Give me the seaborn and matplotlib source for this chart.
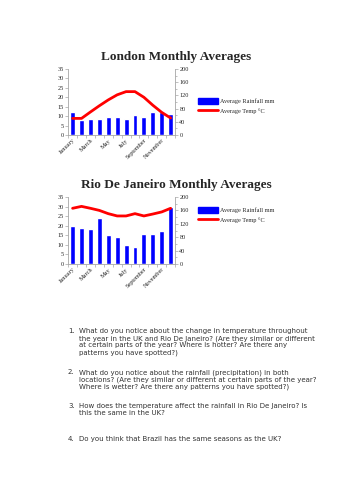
import numpy as np
import pandas as pd
import seaborn as sns
import matplotlib.pyplot as plt
from matplotlib.patches import Patch
from matplotlib.lines import Line2D
from matplotlib.ticker import MultipleLocator

sns.set_theme(style="white")

# dados
months = ["January", "February", "March", "April", "May", "June", "July",
          "August", "September", "October", "November", "December"]
london_rain = [70, 45, 50, 50, 55, 54, 49, 61, 55, 70, 70, 64]
london_temp = [8.8, 8.8, 12.2, 15.5, 18.6, 21.3, 23.0, 23.0, 20.0, 15.8, 12.0, 9.0]
rio_rain = [114, 106, 103, 137, 86, 80, 56, 51, 89, 89, 98, 170]
rio_temp = [29.1, 30.1, 29.1, 28.0, 26.3, 25.1, 25.1, 26.3, 25.1, 26.1, 27.2, 29.1]

questions = [
    ("1.", "What do you notice about the change in temperature throughout\n"
           "the year in the UK and Rio De Janeiro? (Are they similar or different\n"
           "at certain parts of the year? Where is hotter? Are there any\n"
           "patterns you have spotted?)"),
    ("2.", "What do you notice about the rainfall (precipitation) in both\n"
           "locations? (Are they similar or different at certain parts of the year?\n"
           "Where is wetter? Are there any patterns you have spotted?)"),
    ("3.", "How does the temperature affect the rainfall in Rio De Janeiro? Is\n"
           "this the same in the UK?"),
    ("4.", "Do you think that Brazil has the same seasons as the UK?"),
]
question_y = [328, 369, 403, 436]

serif = "Liberation Serif"
grey = "#a6a6a6"

fig = plt.figure(figsize=(3.53, 5.0), dpi=100)


def climate_chart(rect, title, rain, temp, title_y, legend_y):
    ax = fig.add_axes(rect)
    df = pd.DataFrame({"month": months, "rain": rain, "temp": temp})
    sns.barplot(data=df, x="month", y="rain", color="#0000ff", saturation=1,
                width=0.55, ax=ax)

    ax2 = ax.twinx()
    sns.pointplot(data=df, x="month", y="temp", color="#ff0000", markers="",
                  linewidth=2, ax=ax2)

    # chuva no eixo direito, temperatura no esquerdo
    ax.set_ylim(0, 200)
    ax.yaxis.tick_right()
    ax.yaxis.set_major_locator(MultipleLocator(40))
    ax.yaxis.set_minor_locator(MultipleLocator(20))
    ax2.set_ylim(0, 35)
    ax2.yaxis.tick_left()
    ax2.yaxis.set_major_locator(MultipleLocator(5))

    for a in (ax, ax2):
        a.set_xlabel("")
        a.set_ylabel("")
        a.set_xlim(-0.5, len(months) - 0.5)
        for s in a.spines.values():
            s.set_visible(False)
        a.tick_params(axis="y", labelsize=4.5, length=2, width=0.5,
                      color=grey, pad=1, which="both")
        for lab in a.get_yticklabels():
            lab.set_family(serif)
    ax.tick_params(axis="y", which="minor", length=1.5)
    for s in ("left", "right", "bottom"):
        ax2.spines[s].set_visible(True)
        ax2.spines[s].set_color(grey)
        ax2.spines[s].set_linewidth(0.6)

    # rótulos do eixo x: um sim, um não
    ax.set_xticks(range(0, len(months), 2))
    ax.set_xticklabels(months[::2], rotation=45, ha="right",
                       rotation_mode="anchor", fontsize=4.5, family=serif)
    ax.set_xticks(np.arange(-0.5, len(months), 1), minor=True)
    ax.tick_params(axis="x", which="major", length=0, pad=2)
    ax.tick_params(axis="x", which="minor", length=2, width=0.5, color=grey,
                   bottom=True)
    ax2.tick_params(axis="x", which="both", bottom=False, labelbottom=False)

    fig.text(0.5, title_y, title, ha="center", va="center", fontsize=9.5,
             fontweight="bold", family=serif)
    handles = [Patch(color="#0000ff"), Line2D([], [], color="#ff0000", lw=2)]
    fig.legend(handles, ["Average Rainfall mm", "Average Temp \u00b0C"],
               loc="center left", bbox_to_anchor=(0.545, legend_y), frameon=False,
               prop={"family": serif, "size": 4.5}, handlelength=3.2,
               handleheight=1.0, labelspacing=0.6, handletextpad=0.3)


climate_chart([0.193, 0.73, 0.303, 0.132], "London Monthly Averages",
              london_rain, london_temp, 0.886, 0.788)
climate_chart([0.193, 0.472, 0.303, 0.134], "Rio De Janeiro Monthly Averages",
              rio_rain, rio_temp, 0.63, 0.57)

for (num, txt), y in zip(questions, question_y):
    fig.text(68 / 353, 1 - y / 500, num, ha="left", va="top", fontsize=5,
             family="DejaVu Sans", color="#333333")
    fig.text(79 / 353, 1 - y / 500, txt, ha="left", va="top", fontsize=5,
             family="DejaVu Sans", color="#333333", linespacing=1.2)

fig.savefig("out.png", dpi=100)
